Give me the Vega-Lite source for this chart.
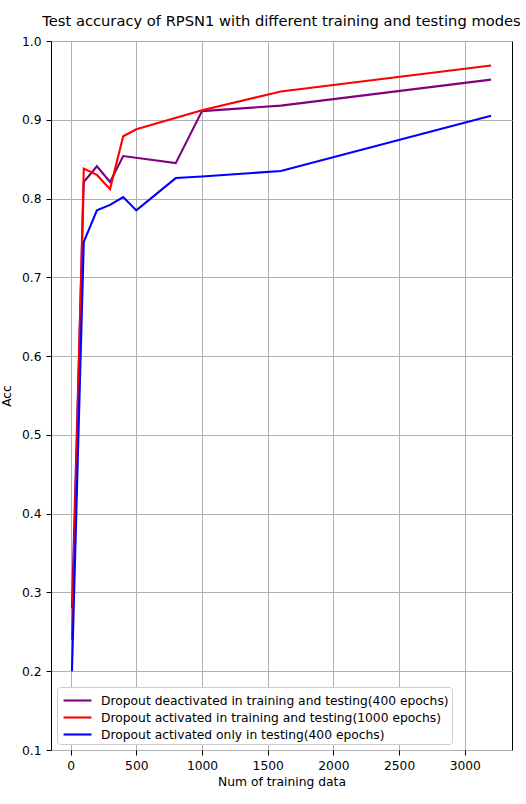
{
  "$schema": "https://vega.github.io/schema/vega-lite/v6.json",
  "autosize": "none",
  "width": 461,
  "height": 709,
  "padding": {"left": 51, "top": 41, "right": 14, "bottom": 54},
  "background": "white",
  "title": {
    "text": "Test accuracy of RPSN1 with different training and testing modes",
    "font": "DejaVu Sans",
    "fontSize": 14.7,
    "fontWeight": "normal",
    "color": "black",
    "anchor": "middle",
    "offset": 6
  },
  "config": {
    "view": {"stroke": "black", "strokeWidth": 1},
    "font": "DejaVu Sans"
  },
  "data": {
    "values": [
      {"mode": "Dropout deactivated in training and testing(400 epochs)", "n": 10, "acc": 0.28},
      {"mode": "Dropout deactivated in training and testing(400 epochs)", "n": 100, "acc": 0.821},
      {"mode": "Dropout deactivated in training and testing(400 epochs)", "n": 200, "acc": 0.841},
      {"mode": "Dropout deactivated in training and testing(400 epochs)", "n": 300, "acc": 0.821},
      {"mode": "Dropout deactivated in training and testing(400 epochs)", "n": 400, "acc": 0.854},
      {"mode": "Dropout deactivated in training and testing(400 epochs)", "n": 800, "acc": 0.845},
      {"mode": "Dropout deactivated in training and testing(400 epochs)", "n": 1000, "acc": 0.911},
      {"mode": "Dropout deactivated in training and testing(400 epochs)", "n": 1600, "acc": 0.918},
      {"mode": "Dropout deactivated in training and testing(400 epochs)", "n": 3200, "acc": 0.951},
      {"mode": "Dropout activated in training and testing(1000 epochs)", "n": 10, "acc": 0.24},
      {"mode": "Dropout activated in training and testing(1000 epochs)", "n": 100, "acc": 0.838},
      {"mode": "Dropout activated in training and testing(1000 epochs)", "n": 200, "acc": 0.83},
      {"mode": "Dropout activated in training and testing(1000 epochs)", "n": 300, "acc": 0.812},
      {"mode": "Dropout activated in training and testing(1000 epochs)", "n": 400, "acc": 0.879},
      {"mode": "Dropout activated in training and testing(1000 epochs)", "n": 500, "acc": 0.888},
      {"mode": "Dropout activated in training and testing(1000 epochs)", "n": 1000, "acc": 0.912},
      {"mode": "Dropout activated in training and testing(1000 epochs)", "n": 1600, "acc": 0.936},
      {"mode": "Dropout activated in training and testing(1000 epochs)", "n": 3200, "acc": 0.969},
      {"mode": "Dropout activated only in testing(400 epochs)", "n": 10, "acc": 0.2},
      {"mode": "Dropout activated only in testing(400 epochs)", "n": 100, "acc": 0.745},
      {"mode": "Dropout activated only in testing(400 epochs)", "n": 200, "acc": 0.785},
      {"mode": "Dropout activated only in testing(400 epochs)", "n": 300, "acc": 0.792},
      {"mode": "Dropout activated only in testing(400 epochs)", "n": 400, "acc": 0.802},
      {"mode": "Dropout activated only in testing(400 epochs)", "n": 500, "acc": 0.785},
      {"mode": "Dropout activated only in testing(400 epochs)", "n": 800, "acc": 0.826},
      {"mode": "Dropout activated only in testing(400 epochs)", "n": 1000, "acc": 0.828},
      {"mode": "Dropout activated only in testing(400 epochs)", "n": 1600, "acc": 0.835},
      {"mode": "Dropout activated only in testing(400 epochs)", "n": 3200, "acc": 0.905}
    ]
  },
  "mark": {"type": "line", "strokeWidth": 2.1, "clip": true},
  "encoding": {
    "x": {
      "field": "n",
      "type": "quantitative",
      "scale": {"domain": [-149.5, 3359.5], "nice": false, "zero": false},
      "axis": {
        "title": "Num of training data",
        "titleFont": "DejaVu Sans",
        "titleFontSize": 12.3,
        "titleFontWeight": "normal",
        "titleColor": "black",
        "titlePadding": 4,
        "values": [0, 500, 1000, 1500, 2000, 2500, 3000],
        "format": "d",
        "labelFont": "DejaVu Sans",
        "labelFontSize": 12.3,
        "labelColor": "black",
        "labelPadding": 4,
        "tickColor": "black",
        "tickSize": 5,
        "domain": false,
        "grid": true,
        "gridColor": "#b0b0b0",
        "gridWidth": 1
      }
    },
    "y": {
      "field": "acc",
      "type": "quantitative",
      "scale": {"domain": [0.1, 1.0], "nice": false, "zero": false},
      "axis": {
        "title": "Acc",
        "titleFont": "DejaVu Sans",
        "titleFontSize": 12.3,
        "titleFontWeight": "normal",
        "titleColor": "black",
        "titlePadding": 8,
        "values": [0.1, 0.2, 0.3, 0.4, 0.5, 0.6, 0.7, 0.8, 0.9, 1.0],
        "format": ".1f",
        "labelFont": "DejaVu Sans",
        "labelFontSize": 12.3,
        "labelColor": "black",
        "labelPadding": 5,
        "tickColor": "black",
        "tickSize": 5,
        "domain": false,
        "grid": true,
        "gridColor": "#b0b0b0",
        "gridWidth": 1
      }
    },
    "color": {
      "field": "mode",
      "type": "nominal",
      "sort": null,
      "scale": {
        "domain": [
          "Dropout deactivated in training and testing(400 epochs)",
          "Dropout activated in training and testing(1000 epochs)",
          "Dropout activated only in testing(400 epochs)"
        ],
        "range": ["#800080", "#ff0000", "#0000ff"]
      },
      "legend": {
        "title": null,
        "orient": "bottom-left",
        "offset": 6,
        "symbolType": "M-1.55,0H1.55",
        "symbolSize": 324,
        "symbolStrokeWidth": 2.1,
        "symbolOffset": 7,
        "labelOffset": 13,
        "labelFont": "DejaVu Sans",
        "labelFontSize": 12.3,
        "labelColor": "black",
        "labelLimit": 500,
        "rowPadding": 0,
        "fillColor": "white",
        "strokeColor": "#cccccc",
        "cornerRadius": 3,
        "padding": 3
      }
    }
  }
}
